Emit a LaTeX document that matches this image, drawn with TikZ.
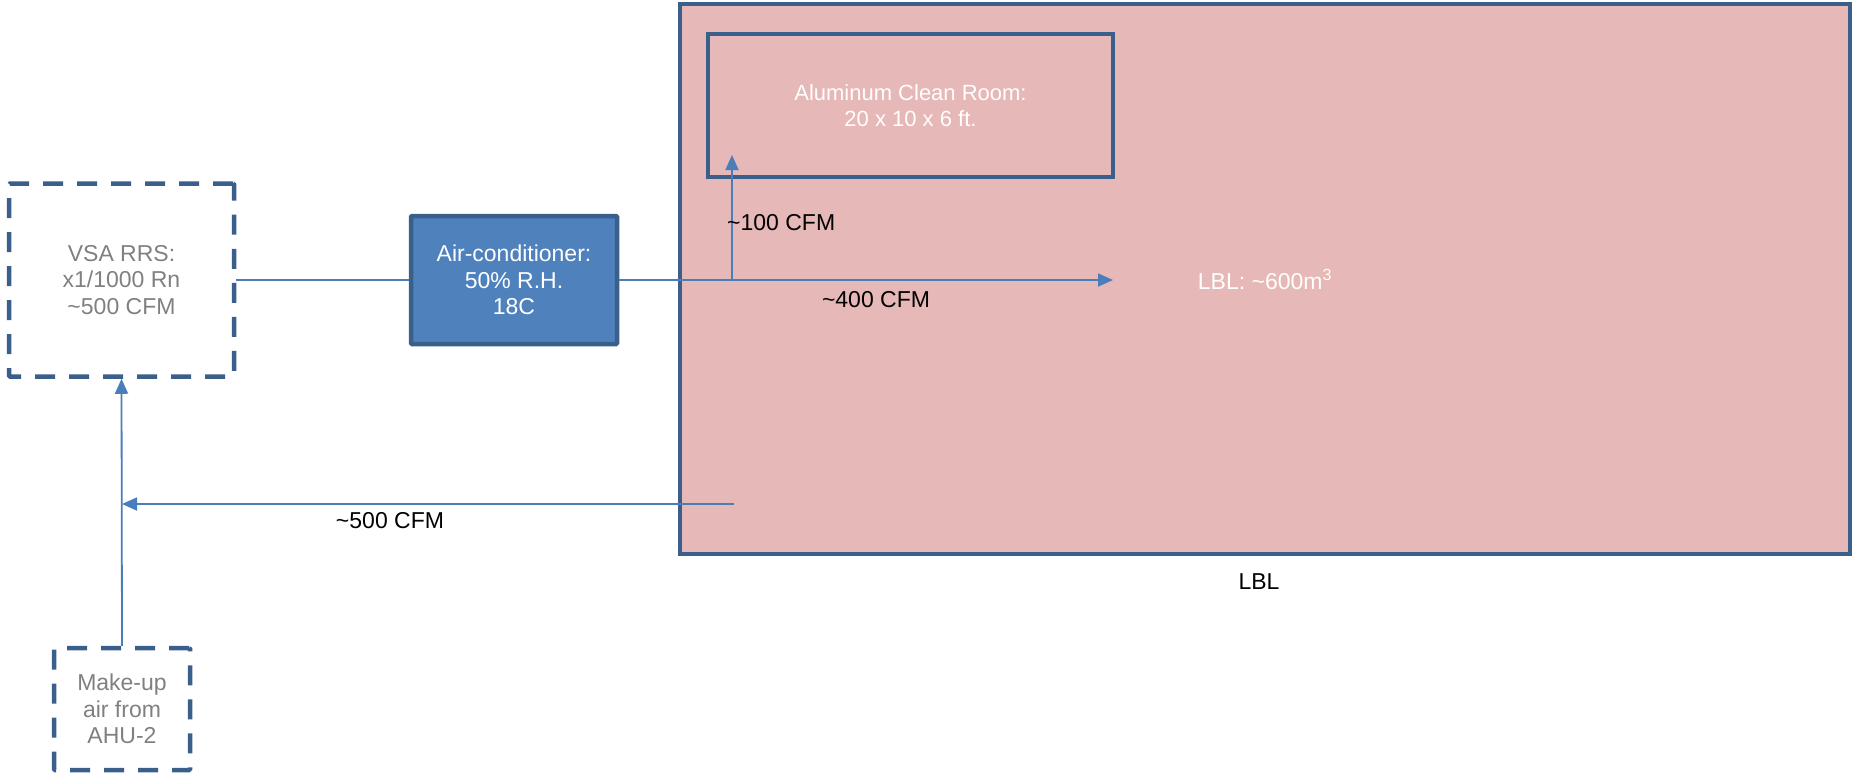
\documentclass[tikz,border=0pt]{standalone}
\usepackage{fontspec}
\setmainfont{Liberation Sans}
\usetikzlibrary{arrows.meta}
\definecolor{roomfill}{HTML}{E6B8B7}
\definecolor{edgeblue}{HTML}{3A5F8B}
\definecolor{unitfill}{HTML}{4F81BD}
\definecolor{flowblue}{HTML}{4A7EBB}
\definecolor{softgray}{HTML}{808080}
\tikzset{
  txt/.style={font=\fontsize{23}{26.5}\selectfont, align=center, inner sep=0pt},
  room/.style={txt, draw=edgeblue, line width=4.5pt, text=white},
  unit/.style={txt, draw=edgeblue, line width=4.5pt, fill=unitfill, text=white, rounded corners=1pt},
  source/.style={txt, draw=edgeblue, line width=4.5pt, dash pattern=on 20pt off 14pt, text=softgray, rounded corners=1pt},
  flow/.style={draw=flowblue, line width=1.8pt},
  flowarrow/.style={flow, -{Triangle[length=15pt,width=13pt]}},
  tag/.style={font=\fontsize{23}{26.5}\selectfont, inner sep=0pt, text=black}
}
\begin{document}
\begin{tikzpicture}[x=1pt,y=-1pt]
  \useasboundingbox (0,0) rectangle (1854,772);

  % rooms
  \node[room, fill=roomfill, minimum width=1170pt, minimum height=550pt] (lbl) at (1265,279) {LBL: \textasciitilde600m\textsuperscript{3}};
  \node[room, font=\fontsize{22}{25.5}\selectfont, minimum width=405pt, minimum height=143pt] (clean) at (910.5,105.5) {Aluminum Clean Room:\\20 x 10 x 6 ft.};

  % equipment
  \node[source, minimum width=225pt, minimum height=193pt] (vsa) at (121.5,280) {VSA RRS:\\x1/1000 Rn\\\textasciitilde500 CFM};
  \node[unit, minimum width=206pt, minimum height=128pt] (ac) at (514,280) {Air-conditioner:\\50\% R.H.\\18C};
  \node[source, minimum width=136pt, minimum height=122pt] (makeup) at (122,709) {Make-up\\air from\\AHU-2};

  % flow points
  \coordinate (split) at (732,280);
  \coordinate (feedend) at (1113,280);
  \coordinate (cleanin) at (732,155);
  \coordinate (retstart) at (734,504);
  \coordinate (join) at (122,504);

  % air flows
  \draw[flow] (vsa.east) -- (ac.west);
  \draw[flowarrow] (ac.east) -- (feedend);
  \draw[flowarrow] (split) -- (cleanin);
  \draw[flowarrow] (retstart) -- (join);
  \draw[flowarrow] (makeup.north) -- (vsa.south);

  % labels
  \node[tag, anchor=west] (q100) at (727,223) {\textasciitilde100 CFM};
  \node[tag] (q400) at (876,300) {\textasciitilde400 CFM};
  \node[tag] (q500) at (390,521) {\textasciitilde500 CFM};
  \node[tag] (lblname) at (1259,582) {LBL};
\end{tikzpicture}
\end{document}
